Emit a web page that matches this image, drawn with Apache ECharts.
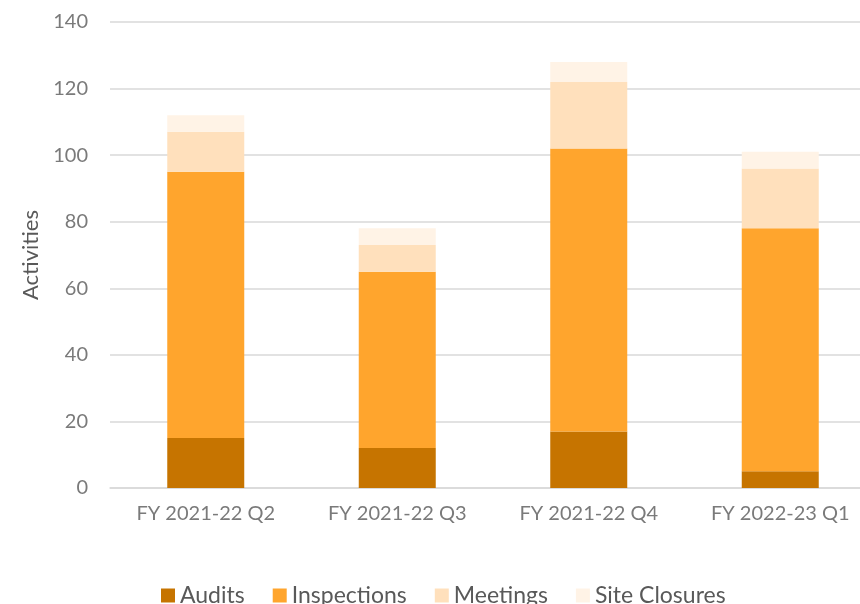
<!DOCTYPE html>
<html lang="en">
<head>
    <meta charset="UTF-8">
    <title>Activities</title>
    <script src="https://cdn.jsdelivr.net/npm/echarts@6/dist/echarts.min.js"></script>
    <style>
        html, body { margin: 0; padding: 0; background: #fff; }
        #main { width: 860px; height: 604px; }
    </style>
</head>
<body>
<div id="main"></div>
<script>
    var quarters = ['FY 2021-22 Q2', 'FY 2021-22 Q3', 'FY 2021-22 Q4', 'FY 2022-23 Q1'];
    var audits = [15, 12, 17, 5];
    var inspections = [80, 53, 85, 73];
    var meetings = [12, 8, 20, 18];
    var siteClosures = [5, 5, 6, 5];

    var font = 'Lato, Open Sans, sans-serif';

    function bar(name, data, color) {
        return {
            name: name,
            type: 'bar',
            stack: 'total',
            barWidth: 77,
            itemStyle: {color: color},
            data: data
        };
    }

    var myChart = echarts.init(document.getElementById('main'));
    myChart.setOption({
        animation: false,
        // plot area runs a little past the right edge, like the original
        grid: {left: 110, width: 766, top: 22, bottom: 116, outerBoundsMode: 'none'},
        legend: {
            bottom: -8,
            left: 156,
            itemWidth: 14,
            itemHeight: 14,
            itemGap: 28,
            icon: 'rect',
            textStyle: {fontFamily: font, fontSize: 23, color: '#595959'},
            data: ['Audits', 'Inspections', 'Meetings', 'Site Closures']
        },
        xAxis: {
            type: 'category',
            data: quarters,
            axisLine: {lineStyle: {color: '#d9d9d9', width: 1.5}},
            axisTick: {show: false},
            axisLabel: {fontFamily: font, fontSize: 20, color: '#7a7a7a', margin: 16}
        },
        yAxis: {
            type: 'value',
            min: 0,
            max: 140,
            interval: 20,
            name: 'Activities',
            nameLocation: 'middle',
            nameGap: 68,
            nameTextStyle: {fontFamily: font, fontSize: 22, color: '#595959'},
            axisLabel: {fontFamily: font, fontSize: 20, color: '#7a7a7a', margin: 22},
            splitLine: {lineStyle: {color: '#d9d9d9', width: 1.5}}
        },
        series: [
            bar('Audits', audits, '#c67400'),
            bar('Inspections', inspections, '#ffa52d'),
            bar('Meetings', meetings, '#ffe0bc'),
            bar('Site Closures', siteClosures, '#fff3e6')
        ]
    });
</script>
</body>
</html>
